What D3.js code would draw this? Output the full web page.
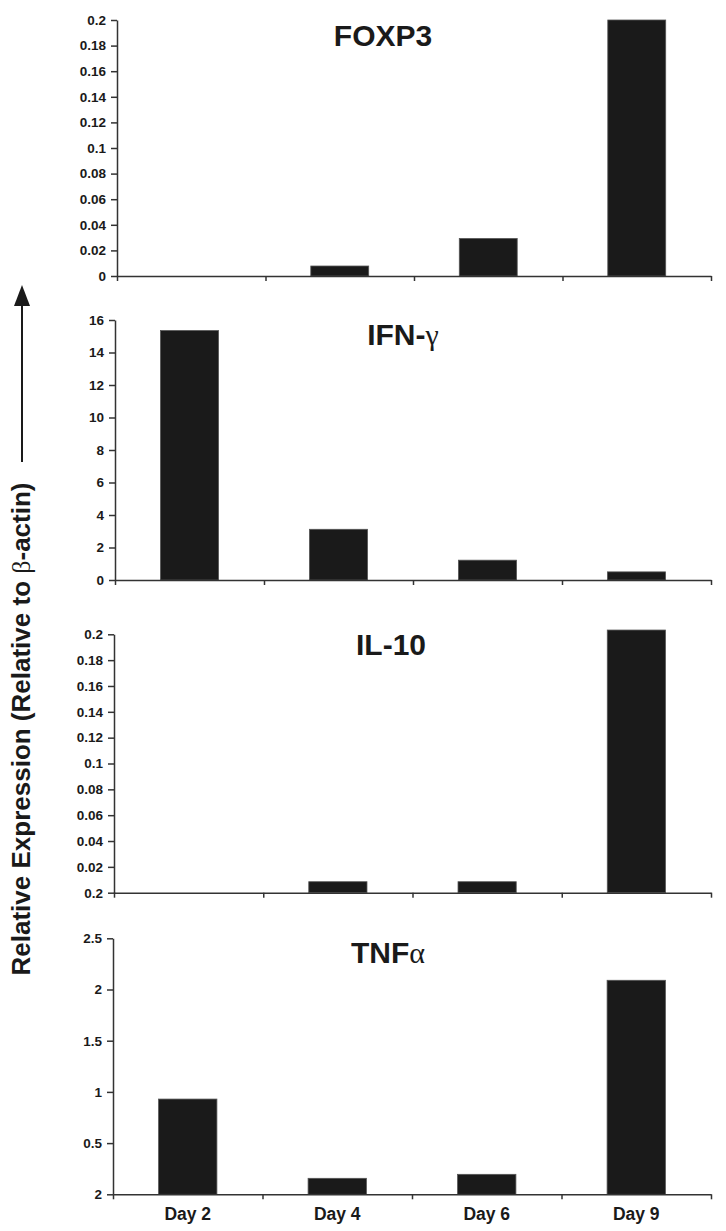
<!DOCTYPE html>
<html>
<head>
<meta charset="utf-8">
<script src="https://cdn.jsdelivr.net/npm/d3@7"></script>
<style>
  body { margin: 0; background: #fff; }
  svg { display: block; font-family: "Liberation Sans", Arial, sans-serif; }
  .axis path, .axis line { stroke: #333; stroke-width: 1.5; }
  .axis text { fill: #1a1a1a; font-weight: bold; }
</style>
</head>
<body>
<div id="chart"></div>
<script>
// categories along x
var categories = ["Day 2", "Day 4", "Day 6", "Day 9"];

// values
var foxp3Values = [0, 0.0078, 0.0293, 0.2];
var ifngValues = [15.35, 3.12, 1.22, 0.5];
var il10Values = [0, 0.0085, 0.0085, 0.2033];
var tnfaValues = [0.93, 0.156, 0.195, 2.09];

// y tick values and their printed labels (as in the original figure)
var foxp3Ticks = [0, 0.02, 0.04, 0.06, 0.08, 0.1, 0.12, 0.14, 0.16, 0.18, 0.2];
var foxp3TickLabels = ["0", "0.02", "0.04", "0.06", "0.08", "0.1", "0.12", "0.14", "0.16", "0.18", "0.2"];
var ifngTicks = [0, 2, 4, 6, 8, 10, 12, 14, 16];
var ifngTickLabels = ["0", "2", "4", "6", "8", "10", "12", "14", "16"];
var il10Ticks = [0, 0.02, 0.04, 0.06, 0.08, 0.1, 0.12, 0.14, 0.16, 0.18, 0.2];
var il10TickLabels = ["0.2", "0.02", "0.04", "0.06", "0.08", "0.1", "0.12", "0.14", "0.16", "0.18", "0.2"];
var tnfaTicks = [0, 0.5, 1, 1.5, 2, 2.5];
var tnfaTickLabels = ["2", "0.5", "1", "1.5", "2", "2.5"];

var yTitle = "Relative Expression (Relative to ";
var yTitleGreek = "\u03b2";
var yTitleEnd = "-actin)";

var width = 726, height = 1231;

var panels = [
    {name: "FOXP3", greek: "", values: foxp3Values, ticks: foxp3Ticks, labels: foxp3TickLabels,
     top: 20, bottom: 276, left: 117, titleX: 383, titleY: 46},
    {name: "IFN-", greek: "\u03b3", values: ifngValues, ticks: ifngTicks, labels: ifngTickLabels,
     top: 320, bottom: 580, left: 115, titleX: 403, titleY: 345},
    {name: "IL-10", greek: "", values: il10Values, ticks: il10Ticks, labels: il10TickLabels,
     top: 634.3, bottom: 892.7, left: 114, titleX: 391, titleY: 655},
    {name: "TNF", greek: "\u03b1", values: tnfaValues, ticks: tnfaTicks, labels: tnfaTickLabels,
     top: 938.3, bottom: 1194.3, left: 113, titleX: 388, titleY: 963}
];
var right = 711;

var svg = d3.select("#chart")
    .append("svg")
    .attr("width", width)
    .attr("height", height);

panels.forEach(function(p, pi) {
    var x = d3.scaleBand()
        .domain(categories)
        .range([p.left, right])
        .padding(0);
    var xb = d3.scaleLinear()
        .domain([0, categories.length])
        .range([p.left, right]);
    var y = d3.scaleLinear()
        .domain([0, d3.max(p.ticks)])
        .range([p.bottom, p.top]);

    var barW = x.bandwidth() * 0.39;

    svg.append("g")
        .selectAll("rect")
        .data(p.values)
        .enter().append("rect")
        .attr("x", function(d, i) { return x(categories[i]) + (x.bandwidth() - barW) / 2; })
        .attr("y", function(d) { return y(d); })
        .attr("width", barW)
        .attr("height", function(d) { return p.bottom - y(d); })
        .attr("fill", "#1a1a1a")
        .attr("stroke", "#555")
        .attr("stroke-width", 0.8);

    var yAxis = d3.axisLeft(y)
        .tickValues(p.ticks)
        .tickFormat(function(d, i) { return p.labels[i]; })
        .tickSize(6)
        .tickSizeOuter(0)
        .tickPadding(5);

    svg.append("g")
        .attr("class", "axis")
        .attr("transform", `translate(${p.left}, 0)`)
        .call(yAxis)
        .selectAll("text")
        .style("font-size", "13.5px");

    var xAxis = d3.axisBottom(xb)
        .tickValues(d3.range(categories.length + 1))
        .tickFormat("")
        .tickSize(5)
        .tickSizeOuter(0);

    svg.append("g")
        .attr("class", "axis")
        .attr("transform", `translate(0, ${p.bottom})`)
        .call(xAxis);

    if (pi === panels.length - 1) {
        var labAxis = d3.axisBottom(x).tickSize(0).tickPadding(13);
        var g = svg.append("g")
            .attr("class", "axis")
            .attr("transform", `translate(0, ${p.bottom})`)
            .call(labAxis);
        g.select(".domain").remove();
        g.selectAll("text").style("font-size", "17.5px");
    }

    var t = svg.append("text")
        .attr("x", p.titleX)
        .attr("y", p.titleY)
        .attr("text-anchor", "middle")
        .attr("fill", "#1a1a1a")
        .style("font-size", "30px")
        .style("font-weight", "bold");
    t.append("tspan").text(p.name);
    if (p.greek) {
        t.append("tspan")
            .style("font-family", "'Liberation Serif', 'DejaVu Serif', serif")
            .style("font-weight", "normal")
            .text(p.greek);
    }
});

// y axis title with arrow
var yt = svg.append("text")
    .attr("transform", "translate(30, 729) rotate(-90)")
    .attr("text-anchor", "middle")
    .attr("fill", "#1a1a1a")
    .style("font-size", "26px")
    .style("font-weight", "bold");
yt.append("tspan").text(yTitle);
yt.append("tspan")
    .style("font-family", "'Liberation Serif', 'DejaVu Serif', serif")
    .style("font-weight", "normal")
    .text(yTitleGreek);
yt.append("tspan").text(yTitleEnd);

svg.append("line")
    .attr("x1", 22).attr("x2", 22)
    .attr("y1", 462).attr("y2", 300)
    .attr("stroke", "#1a1a1a")
    .attr("stroke-width", 2);
svg.append("path")
    .attr("d", "M22,285 L14,306 L30,306 Z")
    .attr("fill", "#1a1a1a");
</script>
</body>
</html>
